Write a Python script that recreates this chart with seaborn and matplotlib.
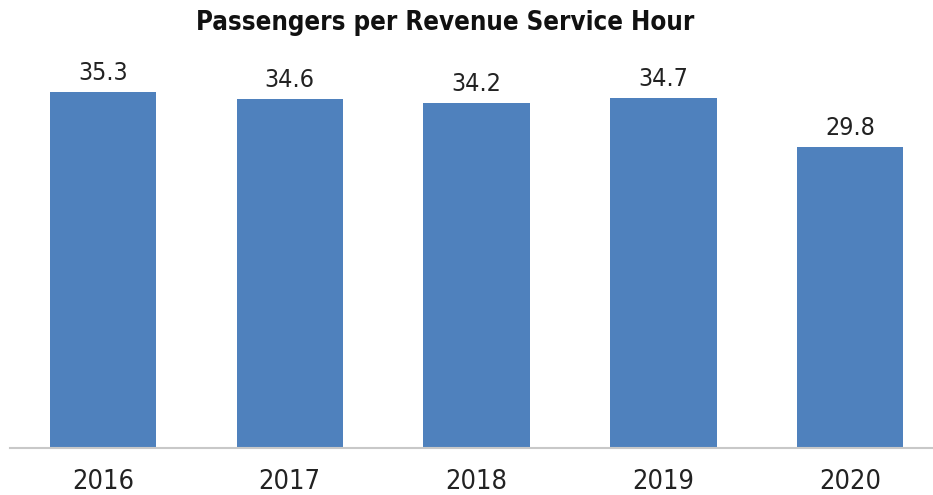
import matplotlib
matplotlib.use("Agg")
import matplotlib.pyplot as plt
import seaborn as sns
import pandas as pd

years = ["2016", "2017", "2018", "2019", "2020"]
values = [35.3, 34.6, 34.2, 34.7, 29.8]
title = "Passengers per Revenue Service Hour"

sns.set_theme(style="white")
plt.rcParams["font.family"] = ["DejaVu Sans"]
plt.rcParams["font.stretch"] = "condensed"

df = pd.DataFrame({"year": years, "value": values})

W, H, DPI = 933, 495, 100
fig = plt.figure(figsize=(W / DPI, H / DPI), dpi=DPI)
ax = fig.add_axes([10 / W, 47.3 / H, (W - 10) / W, 403.2 / H])

sns.barplot(data=df, x="year", y="value", color="#4f81bd", saturation=1,
            width=0.57, linewidth=0, ax=ax)

ax.set_ylim(0, 40)
ax.set_xlim(-0.498, 4.444)
ax.set_yticks([])
ax.set_xlabel("")
ax.set_ylabel("")
for s in ["top", "left", "right"]:
    ax.spines[s].set_visible(False)
ax.spines["bottom"].set_color("#c8c8c8")
ax.spines["bottom"].set_linewidth(1.5)
ax.tick_params(axis="x", length=0, pad=15, labelsize=19.5, colors="#222222")
for lbl in ax.get_xticklabels():
    lbl.set_fontstretch("condensed")

for cont in ax.containers:
    ax.bar_label(cont, labels=[f"{v:.1f}" for v in values], padding=5,
                 fontsize=18, color="#222222", fontstretch="condensed")

fig.text(445 / W, 1 - 23 / H, title, ha="center", va="center",
         fontsize=18.5, fontweight="bold", color="#111111",
         fontstretch="condensed")

fig.savefig("out.png", dpi=DPI)
